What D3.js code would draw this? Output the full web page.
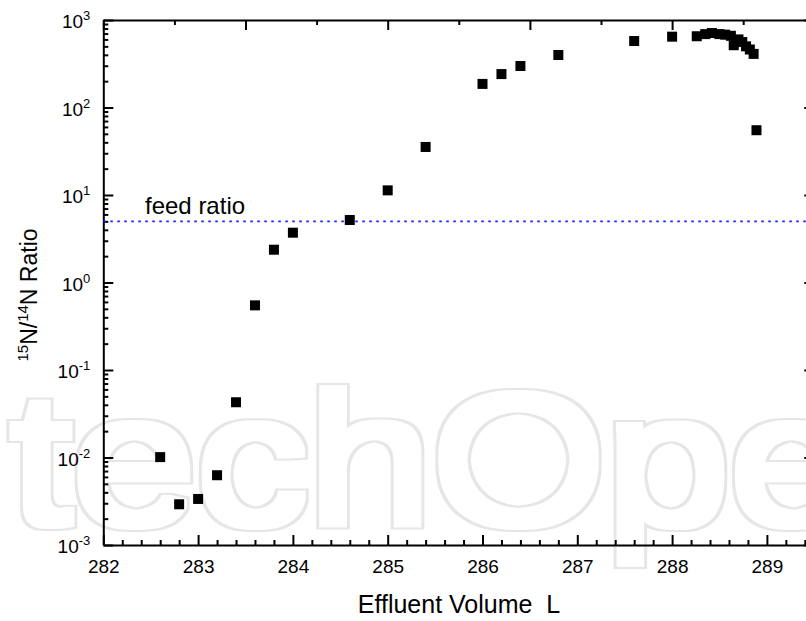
<!DOCTYPE html>
<html>
<head>
<meta charset="utf-8">
<script src="https://cdn.jsdelivr.net/npm/d3@7"></script>
<style>
  html, body { margin: 0; padding: 0; background: #fff; }
  svg { display: block; }
  text { font-family: "Liberation Sans", Arial, sans-serif; fill: #000; }
</style>
</head>
<body>
<svg id="chart" width="806" height="621"></svg>
<script>
// ---- data ----
const volume = [282.6, 282.8, 283.0, 283.2, 283.4, 283.6, 283.8, 284.0, 284.6, 285.0,
                285.4, 286.0, 286.2, 286.4, 286.8, 287.6, 288.0, 288.26, 288.35, 288.42,
                288.5, 288.56, 288.62, 288.65, 288.7, 288.74, 288.78, 288.82, 288.86, 288.89];
const ratio  = [0.0101, 0.00292, 0.00336, 0.00627, 0.0428, 0.548, 2.37, 3.71, 5.18, 11.3,
                35.4, 186, 241, 298, 398, 575, 645, 652, 690, 710,
                690, 680, 660, 515, 600, 560, 500, 460, 410, 55];
const feedRatio = 5;
const xTickLabels = [282, 283, 284, 285, 286, 287, 288, 289];
const yTickExponents = [-3, -2, -1, 0, 1, 2, 3];
const xLabel = "Effluent Volume\u00a0\u00a0L";
const feedLabel = "feed ratio";

// ---- layout ----
const svg = d3.select("#chart");
const x = d3.scaleLinear().domain([282, 289.5]).range([103.3, 814.3]);
const y = d3.scaleLog().domain([1e-3, 1e3]).range([545, 20]);

// watermark outline filter (ring around thickened glyphs)
const defs = svg.append("defs");
const f = defs.append("filter").attr("id", "wm").attr("x", "-10%").attr("y", "-10%").attr("width", "120%").attr("height", "120%");
f.append("feMorphology").attr("in", "SourceAlpha").attr("operator", "dilate").attr("radius", 5.5).attr("result", "outer");
f.append("feMorphology").attr("in", "SourceAlpha").attr("operator", "dilate").attr("radius", 3.5).attr("result", "inner");
f.append("feComposite").attr("in", "outer").attr("in2", "inner").attr("operator", "out").attr("result", "ring");
f.append("feFlood").attr("flood-color", "#e6e6e6").attr("result", "col");
f.append("feComposite").attr("in", "col").attr("in2", "ring").attr("operator", "in");

svg.append("text")
  .attr("transform", "translate(10,524) scale(1.2,1)")
  .attr("font-size", 186)
  .attr("filter", "url(#wm)")
  .text("techOpen");

// minor tick generators
const xMinor = d3.range(282, 289.51, 0.2).filter(v => Math.abs(v - Math.round(v)) > 1e-6);
const yMinor = [];
yTickExponents.slice(0, -1).forEach(e => { for (let m = 2; m <= 9; m++) yMinor.push(m * Math.pow(10, e)); });
const yMajor = yTickExponents.map(e => Math.pow(10, e));
const topMajor = d3.range(0, 6).map(k => 282 + 1.5 * k);
const topMinor = d3.range(0, 5).map(k => 282.75 + 1.5 * k);

function styleAxis(g) {
  g.selectAll("path.domain").attr("stroke", "#000").attr("stroke-width", 2);
  g.selectAll(".tick line").attr("stroke", "#000").attr("stroke-width", 2);
}

// bottom axis
const gB = svg.append("g").attr("transform", "translate(0,545)");
gB.call(d3.axisBottom(x).tickValues(xTickLabels).tickSizeInner(-10).tickSizeOuter(0)
  .tickPadding(15).tickFormat(d3.format("d")));
gB.append("g").call(d3.axisBottom(x).tickValues(xMinor).tickSizeInner(-5).tickSizeOuter(0).tickFormat(""))
  .select("path.domain").remove();
gB.selectAll("text").attr("font-size", 19).style("font-family", "Liberation Sans, Arial, sans-serif").attr("fill", "#000");
styleAxis(gB);

// top axis
const gT = svg.append("g").attr("transform", "translate(0,20)");
gT.call(d3.axisTop(x).tickValues(topMajor).tickSizeInner(-10).tickSizeOuter(0).tickFormat(""));
gT.append("g").call(d3.axisTop(x).tickValues(topMinor).tickSizeInner(-5).tickSizeOuter(0).tickFormat(""))
  .select("path.domain").remove();
styleAxis(gT);

// left axis
const gL = svg.append("g").attr("transform", "translate(103.3,0)");
gL.call(d3.axisLeft(y).tickValues(yMajor).tickSizeInner(-10).tickSizeOuter(0).tickPadding(13).tickFormat(""));
gL.append("g").call(d3.axisLeft(y).tickValues(yMinor).tickSizeInner(-5).tickSizeOuter(0).tickFormat(""))
  .select("path.domain").remove();
styleAxis(gL);
gL.selectAll(".tick").filter(d => yMajor.includes(d)).select("text")
  .attr("font-size", 19)
  .style("font-family", "Liberation Sans, Arial, sans-serif")
  .each(function(d) {
    const t = d3.select(this);
    t.text(null);
    t.append("tspan").text("10");
    t.append("tspan").attr("font-size", 13).attr("dy", "-8").text(String(Math.round(Math.log10(d))));
  })
  .attr("dy", "0.42em");

// right axis
const gR = svg.append("g").attr("transform", "translate(814.3,0)");
gR.call(d3.axisRight(y).tickValues(yMajor).tickSizeInner(-10).tickSizeOuter(0).tickFormat(""));
gR.append("g").call(d3.axisRight(y).tickValues(yMinor).tickSizeInner(-5).tickSizeOuter(0).tickFormat(""))
  .select("path.domain").remove();
styleAxis(gR);

// feed ratio line
svg.append("line")
  .attr("x1", x(282)).attr("x2", x(289.5))
  .attr("y1", y(feedRatio)).attr("y2", y(feedRatio))
  .attr("stroke", "#1a1aff").attr("stroke-width", 1.6)
  .attr("stroke-dasharray", "2.5,4.5");
svg.append("text")
  .attr("x", 145).attr("y", y(feedRatio) - 7)
  .attr("font-size", 24)
  .text(feedLabel);

// data points
const pts = volume.map((v, i) => ({ v, r: ratio[i] }));
svg.append("g").selectAll("rect").data(pts).join("rect")
  .attr("x", d => x(d.v) - 5).attr("y", d => y(d.r) - 5)
  .attr("width", 10).attr("height", 10)
  .attr("fill", "#000");

// axis titles
svg.append("text")
  .attr("x", 459).attr("y", 613)
  .attr("text-anchor", "middle")
  .attr("font-size", 25)
  .text(xLabel);

const yt = svg.append("text")
  .attr("transform", "translate(37,295) rotate(-90)")
  .attr("text-anchor", "middle")
  .attr("font-size", 23);
yt.append("tspan").attr("font-size", 15).attr("dy", -9).text("15");
yt.append("tspan").attr("dy", 9).text("N/");
yt.append("tspan").attr("font-size", 15).attr("dy", -9).text("14");
yt.append("tspan").attr("dy", 9).text("N Ratio");
</script>
</body>
</html>
